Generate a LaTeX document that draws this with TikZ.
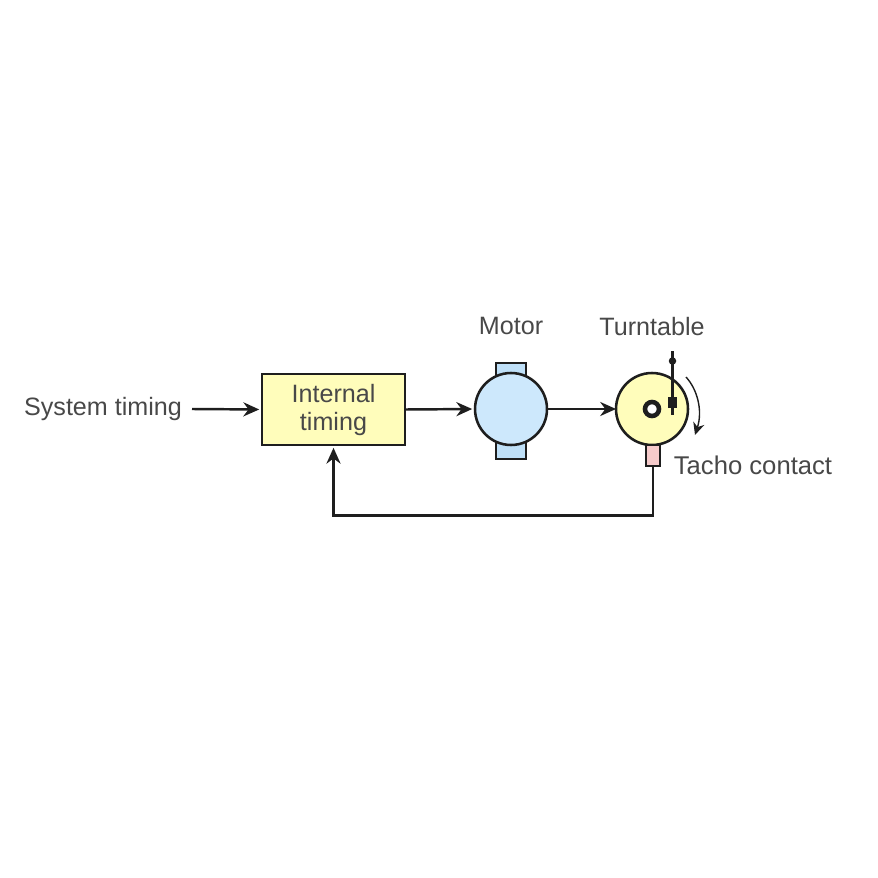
\documentclass[tikz,border=0pt]{standalone}
\usepackage{xcolor}
\usepackage{fontspec}
\setsansfont{Liberation Sans}
\usetikzlibrary{arrows.meta,positioning,calc,backgrounds}
\definecolor{cBoxF}{HTML}{FFFDBB}
\definecolor{cMotorF}{HTML}{CDE8FC}
\definecolor{cBrushF}{HTML}{BFE0F8}
\definecolor{cTachoF}{HTML}{F6CBCB}
\definecolor{cLine}{HTML}{1E1E1E}
\definecolor{cText}{HTML}{484848}
\begin{document}
\begin{tikzpicture}[x=0.02cm,y=-0.02cm,
  part/.style={draw=cLine,line width=1.45pt,inner sep=0pt,outer sep=0pt},
  lab/.style={font=\sffamily\fontsize{14.3}{16.2}\selectfont,text=cText,align=center,inner sep=0pt},
  sig/.style={-{Stealth[length=9pt,width=8pt]},draw=cLine,line width=1.4pt,shorten >=1.6pt}]

  \useasboundingbox (0,0) rectangle (878,878);

  % brushes go under the motor body
  \node[part,fill=cBrushF,minimum width=0.6cm,minimum height=0.34cm] (brushT) at (511,371.5) {};
  \node[part,fill=cBrushF,minimum width=0.6cm,minimum height=0.38cm] (brushB) at (511,449.5) {};
  \node[part,fill=cMotorF,circle,minimum size=1.44cm] (motor) at (511,409) {};

  \node[part,fill=cBoxF,minimum width=2.86cm,minimum height=1.42cm] (timing) at (333.5,409.5) {};
  \node[lab] (timingT) at (333.5,410) {Internal\\timing};

  \node[part,fill=cBoxF,circle,minimum size=1.44cm] (table) at (652,409) {};
  \node[part,fill=white,circle,line width=2.6pt,minimum size=0.28cm] (hub) at (652,409) {};
  \node[part,fill=cTachoF,minimum width=0.28cm,minimum height=0.42cm] (tacho) at (653,455.5) {};

  \node[lab] (sysT) at (103,409) {System timing};
  \node[lab] (motorT) at (511,326) {Motor};
  \node[lab] (tableT) at (652,327) {Turntable};
  \node[lab,font=\sffamily\fontsize{14.6}{16.2}\selectfont] (tachoT) at (753,465) {Tacho contact};

  % stylus arm
  \coordinate (armA) at (672.5,351);
  \coordinate (armB) at (672.5,415);
  \draw[draw=cLine,line width=1.3pt] (armA) -- (armB);
  \node[fill=cLine,circle,minimum size=0.15cm,inner sep=0pt] (armDot) at (672.5,361) {};
  \node[fill=cLine,minimum width=0.17cm,minimum height=0.22cm,inner sep=0pt] (armHead) at (672.5,402.5) {};

  \coordinate (sysA) at (192,409);
  \coordinate (rotA) at (686,377);
  \coordinate (rotB) at (695,435);
  \coordinate (fbC) at (653,515.5);
  \coordinate (fbD) at (333.5,515.5);

  \draw[sig] (sysA) -- (timing.west);
  \draw[sig] (timing.east) -- (motor.west);
  \draw[sig,shorten >=0pt] (motor.east) -- (table.west);
  \draw[sig] (tacho.south) -- (fbC) -- (fbD) -- (timing.south);
  \draw[-{Stealth[length=7pt,width=6.5pt]},draw=cLine,line width=0.8pt]
    (rotA) .. controls (697,389) and (703,410) .. (rotB);
\end{tikzpicture}
\end{document}
